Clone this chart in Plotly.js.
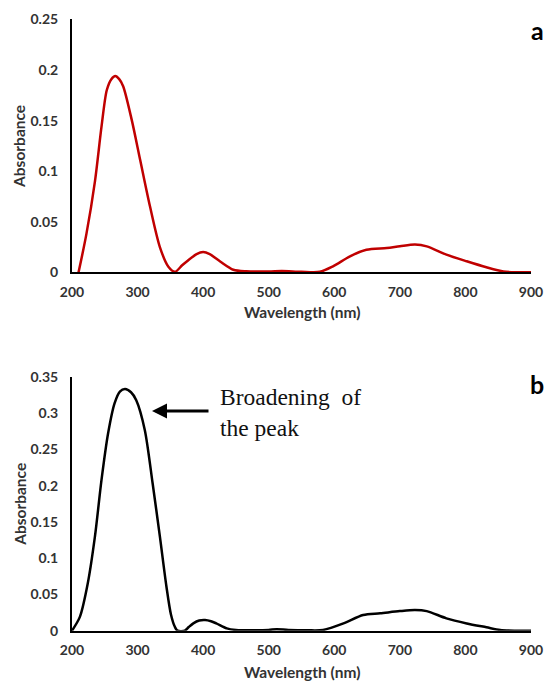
<!DOCTYPE html>
<html>
<head>
<meta charset="utf-8">
<script src="https://cdn.plot.ly/plotly-3.0.1.min.js"></script>
<style>html,body{margin:0;padding:0;background:#fff;}#chart{width:546px;height:681px;}</style>
</head>
<body>
<div id="chart"></div>
<script>
// Panel a (red)
const wavelengthA = [210,222,235,245,253,260,266,272,278,291,304,319,334,347,357,368,375,390,400,410,426,446,466,500,520,550,578,598,624,649,680,700,723,741,771,802,832,858,880,900];
const absorbanceA = [0,0.038,0.090,0.144,0.180,0.191,0.194,0.191,0.184,0.151,0.111,0.065,0.025,0.0055,0.0005,0.007,0.0107,0.018,0.020,0.018,0.0107,0.0026,0.001,0.0008,0.0012,0.0005,0.0005,0.006,0.0158,0.0223,0.024,0.0257,0.0274,0.0257,0.0175,0.0109,0.005,0.0008,0.0001,0];
// Panel b (black)
const wavelengthB = [200,212,224,235,245,255,265,273,281,290,298,311,323,334,344,351,357,361,372,378,385,394,403,412,420,436,450,480,500,512,530,560,583,614,644,670,700,723,741,771,802,832,853,875,900];
const absorbanceB = [0,0.019,0.065,0.130,0.208,0.272,0.314,0.330,0.3335,0.329,0.318,0.277,0.203,0.130,0.061,0.022,0.005,0,0,0.005,0.0101,0.014,0.0147,0.013,0.0101,0.0032,0.001,0.0005,0.001,0.002,0.001,0.0005,0.001,0.010,0.0217,0.024,0.027,0.0285,0.027,0.017,0.010,0.0047,0.001,0,0];
const xTicks = [200,300,400,500,600,700,800,900];
const yTicksA = [0,0.05,0.1,0.15,0.2,0.25];
const yTicksB = [0,0.05,0.1,0.15,0.2,0.25,0.3,0.35];
const xTitle = 'Wavelength (nm)';
const yTitle = 'Absorbance';

const tickFont = {family:'Lato, "Open Sans", sans-serif', size:14, color:'#333', weight:'bold'};
const titleFont = {family:'Lato, "Open Sans", sans-serif', size:15.5, color:'#333', weight:'bold'};

const traces = [
  {x:wavelengthA, y:absorbanceA, xaxis:'x', yaxis:'y', type:'scatter', mode:'lines',
   line:{color:'#c00000', width:2.5, shape:'spline', smoothing:0.8}, hoverinfo:'skip'},
  {x:wavelengthB, y:absorbanceB, xaxis:'x2', yaxis:'y2', type:'scatter', mode:'lines',
   line:{color:'#000000', width:2.5, shape:'spline', smoothing:0.8}, hoverinfo:'skip'}
];

function xAxis(anchor){
  return {anchor:anchor, domain:[0,1], range:[200,900], tickvals:xTicks, ticktext:xTicks.map(String),
    showgrid:false, zeroline:false, showline:true, linecolor:'#000', linewidth:2,
    ticks:'outside', ticklen:6, tickcolor:'rgba(0,0,0,0)', tickfont:tickFont,
    automargin:false, fixedrange:true};
}
function yAxis(anchor, dom, rng, tv){
  return {anchor:anchor, domain:dom, range:rng, tickvals:tv, ticktext:tv.map(String),
    showgrid:false, zeroline:false, showline:true, linecolor:'#000', linewidth:2,
    ticks:'outside', ticklen:9, tickcolor:'rgba(0,0,0,0)', tickfont:tickFont,
    title:{text:yTitle, font:titleFont}, automargin:false, fixedrange:true};
}

const layout = {
  width:546, height:681,
  margin:{l:72, r:15, t:0, b:0},
  paper_bgcolor:'#fff', plot_bgcolor:'#fff',
  showlegend:false,
  xaxis: xAxis('y'),
  yaxis: yAxis('x', [0.6001, 0.9714], [0,0.25], yTicksA),
  xaxis2: xAxis('y2'),
  yaxis2: yAxis('x2', [0.0739, 0.4464], [0,0.35], yTicksB),
  annotations:[
    {xref:'paper', yref:'paper', x:0.5, y:(681-312)/681, text:xTitle, showarrow:false,
     font:titleFont, xanchor:'center', yanchor:'middle'},
    {xref:'paper', yref:'paper', x:0.5, y:(681-672)/681, text:xTitle, showarrow:false,
     font:titleFont, xanchor:'center', yanchor:'middle'},
    {xref:'paper', yref:'paper', x:(537-72)/459, y:(681-30)/681, text:'<b>a</b>', showarrow:false,
     font:{family:'Lato, "Open Sans", sans-serif', size:25, color:'#000'}, xanchor:'center', yanchor:'middle'},
    {xref:'paper', yref:'paper', x:(537-72)/459, y:(681-384)/681, text:'<b>b</b>', showarrow:false,
     font:{family:'Lato, "Open Sans", sans-serif', size:25, color:'#000'}, xanchor:'center', yanchor:'middle'},
    {xref:'x2', yref:'y2', x:422.7, y:0.301, text:'Broadening\u00a0\u00a0of<br>the peak', showarrow:false,
     align:'left', xanchor:'left', yanchor:'middle',
     font:{family:'"Liberation Serif", "Times New Roman", serif', size:23.5, color:'#111'}},
    {xref:'x2', yref:'y2', x:322, y:0.303, axref:'pixel', ayref:'pixel', ax:58, ay:0, text:'',
     showarrow:true, arrowhead:2, arrowsize:1, arrowwidth:3, arrowcolor:'#000'}
  ]
};

Plotly.newPlot('chart', traces, layout, {staticPlot:true, displayModeBar:false});
</script>
</body>
</html>
